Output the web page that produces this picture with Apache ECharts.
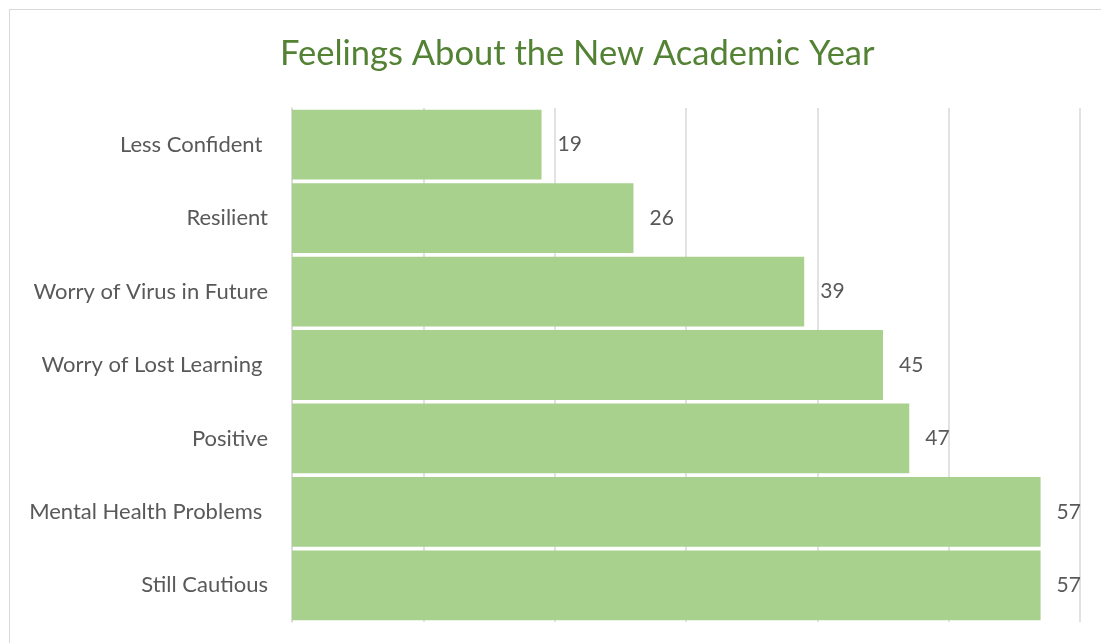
<!DOCTYPE html>
<html>
<head>
<meta charset="utf-8">
<script src="https://cdn.jsdelivr.net/npm/echarts@6/dist/echarts.min.js"></script>
<style>
  html, body { margin: 0; padding: 0; background: #fff; overflow: hidden; }
  .frame { position: absolute; left: 9px; top: 9px; width: 1100px; height: 640px; border: 1.5px solid #d9d9d9; box-sizing: border-box; }
  #chart { position: absolute; left: 0; top: 0; width: 1101px; height: 643px; }
</style>
</head>
<body>
<div class="frame"></div>
<div id="chart"></div>
<script>
  // categories top to bottom, as in the picture
  var categories = ['Less Confident ', 'Resilient', 'Worry of Virus in Future', 'Worry of Lost Learning ', 'Positive', 'Mental Health Problems ', 'Still Cautious'];
  var values = [19, 26, 39, 45, 47, 57, 57];

  var myChart = echarts.init(document.getElementById('chart'));
  myChart.setOption({
    title: {
      text: 'Feelings About the New Academic Year',
      left: 275, top: 31,
      textStyle: { color: '#548235', fontSize: 34.5, fontWeight: 'normal', fontFamily: 'Lato' }
    },
    grid: { left: 292, right: 21, top: 108, bottom: 21 },
    xAxis: {
      type: 'value', min: 0, max: 60, interval: 10,
      axisLabel: { show: false },
      axisLine: { show: false }, axisTick: { show: false },
      splitLine: { lineStyle: { color: '#d9d9d9', width: 1.5 } }
    },
    yAxis: {
      type: 'category', inverse: true, data: categories,
      axisLine: { lineStyle: { color: '#d9d9d9', width: 1.5 } },
      axisTick: { show: false },
      axisLabel: { color: '#595959', fontSize: 22, fontFamily: 'Lato', margin: 24 }
    },
    series: [{
      type: 'bar', data: values,
      barCategoryGap: '5%',
      itemStyle: { color: '#a9d18e' },
      label: { show: true, position: 'right', distance: 16, color: '#595959', fontSize: 21, fontFamily: 'Lato' }
    }]
  });
</script>
</body>
</html>
